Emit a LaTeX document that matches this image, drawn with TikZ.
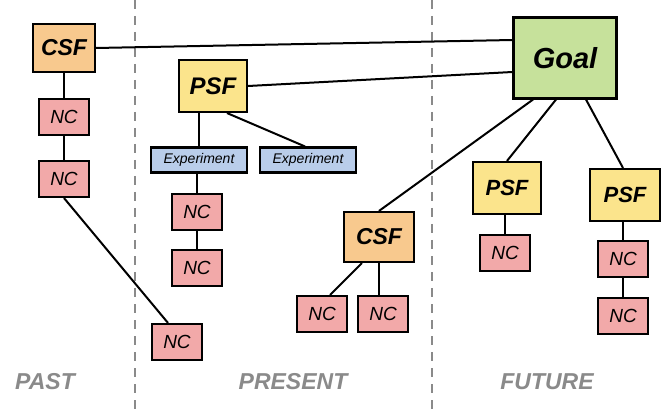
\documentclass[tikz,border=0pt]{standalone}
\usepackage{fontspec}
\setmainfont{Liberation Sans}
\usetikzlibrary{calc}
\definecolor{csfc}{HTML}{F8C98E}
\definecolor{psfc}{HTML}{FBE48C}
\definecolor{goalc}{HTML}{C6E19B}
\definecolor{ncc}{HTML}{F2A9A9}
\definecolor{expc}{HTML}{B9CDEA}
\definecolor{lblc}{HTML}{8A8A8A}
\tikzset{
  box/.style={draw=black, line width=2.1pt, inner sep=0pt, anchor=center},
  csfbox/.style={box, fill=csfc, minimum width=62pt, minimum height=48pt, font=\itshape\bfseries\fontsize{23}{23}\selectfont},
  psfbox/.style={box, fill=psfc, minimum width=68pt, minimum height=52pt, font=\itshape\bfseries\fontsize{24}{24}\selectfont},
  psfsmall/.style={box, fill=psfc, minimum width=68pt, minimum height=52pt, font=\itshape\bfseries\fontsize{22}{22}\selectfont},
  goalbox/.style={box, fill=goalc, minimum width=103pt, minimum height=81pt, font=\itshape\bfseries\fontsize{29}{29}\selectfont},
  ncbox/.style={box, fill=ncc, minimum width=50pt, minimum height=36pt, font=\itshape\fontsize{19}{19}\selectfont},
  expbox/.style={box, fill=expc, minimum width=96pt, minimum height=25pt, font=\itshape\fontsize{14}{14}\selectfont},
  link/.style={draw=black, line width=2pt},
  divider/.style={draw=lblc, line width=1.5pt, dash pattern=on 9pt off 7pt},
  era/.style={text=lblc, font=\itshape\bfseries\fontsize{23}{23}\selectfont, anchor=center}
}
\begin{document}
\begin{tikzpicture}[x=1pt,y=-1pt]
\useasboundingbox (0,0) rectangle (664,414);
\fill[white] (0,0) rectangle (664,414);
% dividers
\coordinate (d1t) at (135,0); \coordinate (d1b) at (135,414);
\coordinate (d2t) at (432,0); \coordinate (d2b) at (432,414);
\draw[divider] (d1t) -- (d1b);
\draw[divider] (d2t) -- (d2b);
% connectors (drawn first, nodes on top)
\coordinate (csfpos) at (64,48);
\coordinate (nc1pos) at (64,117);
\coordinate (nc2pos) at (64,179);
\node[csfbox] (csf) at (csfpos) {CSF};
\node[ncbox] (nc1) at (nc1pos) {NC};
\node[ncbox] (nc2) at (nc2pos) {NC};
\node[ncbox] (ncbot) at (177,342) {NC};
\node[psfbox] (psf) at (213,86) {PSF};
\node[expbox] (exp1) at (199,160) {Experiment};
\node[expbox] (exp2) at (308,160) {Experiment};
\node[ncbox] (nca) at (197,212) {NC};
\node[ncbox] (ncb) at (197,268) {NC};
\node[goalbox] (goal) at (565,58) {Goal};
\node[csfbox, minimum width=70pt, minimum height=50pt] (csfp) at (379,237) {CSF};
\node[ncbox] (ncl) at (322,314) {NC};
\node[ncbox] (ncr) at (383,314) {NC};
\node[psfsmall] (psfm) at (507,188) {PSF};
\node[ncbox] (ncm) at (505,253) {NC};
\node[psfsmall, minimum width=70pt] (psfr) at (625,195) {PSF};
\node[ncbox] (ncr1) at (623,259) {NC};
\node[ncbox] (ncr2) at (623,316) {NC};
% labels
\node[era] (past) at (45,382) {PAST};
\node[era] (present) at (293,382) {PRESENT};
\node[era] (future) at (547,382) {FUTURE};
% connectors
\draw[link] (csf) -- (nc1);
\draw[link] (nc1) -- (nc2);
\draw[link] (nc2.south) -- ([xshift=-9pt]ncbot.north);
\draw[link] (csf.east) -- ([yshift=18pt]goal.west);
\draw[link] (psf.east) -- ([yshift=-14pt]goal.west);
\draw[link] (exp1.north) -- (exp1.north |- psf.south);
\draw[link] ([xshift=14pt]psf.south) -- ([xshift=-3pt]exp2.north);
\draw[link] (exp1.south -| nca) -- (nca);
\draw[link] (nca) -- (ncb);
\draw[link] ([xshift=-32pt]goal.south) -- (csfp.north);
\draw[link] ([xshift=-9pt]goal.south) -- (psfm.north);
\draw[link] ([xshift=21pt]goal.south) -- ([xshift=-2pt]psfr.north);
\draw[link] ([xshift=-17pt]csfp.south) -- ([xshift=8pt]ncl.north);
\draw[link] (csfp.south) -- (csfp.south |- ncr.north);
\draw[link] (psfm.south -| ncm) -- (ncm);
\draw[link] (psfr.south -| ncr1) -- (ncr1);
\draw[link] (ncr1) -- (ncr2);
\end{tikzpicture}
\end{document}
